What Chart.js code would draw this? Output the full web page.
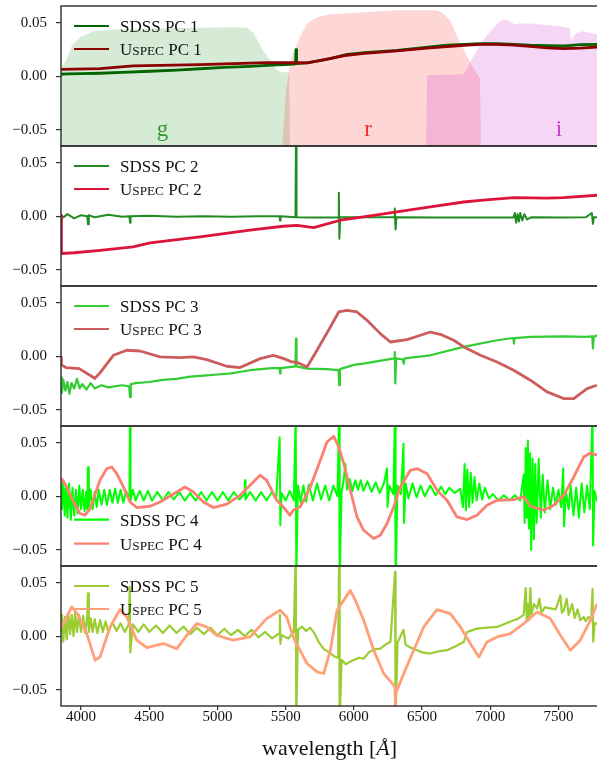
<!DOCTYPE html>
<html><head><meta charset="utf-8">
<script src="https://cdn.jsdelivr.net/npm/chart.js@4.4.0/dist/chart.umd.min.js"></script>
<style>
html,body{margin:0;padding:0;background:#fff;overflow:hidden;width:597px;height:769px}
#wrap{position:relative;width:600px;height:769px;background:#fff}
</style></head>
<body><div id="wrap"></div>
<script>
// ---------------- data ----------------
const xTickValues = [4000, 4500, 5000, 5500, 6000, 6500, 7000, 7500];
const yTickValues = [-0.05, 0, 0.05];
const legendLabels = [
  ['SDSS PC 1', 'Uspec PC 1'], ['SDSS PC 2', 'Uspec PC 2'], ['SDSS PC 3', 'Uspec PC 3'],
  ['SDSS PC 4', 'Uspec PC 4'], ['SDSS PC 5', 'Uspec PC 5']
];
const filterNames = ['g', 'r', 'i'];

// filter transmission curves (scaled into panel 1)
const gWave = [3853, 3890, 3934, 3993, 4088, 4264, 4630, 5114, 5217, 5261, 5334, 5386, 5437, 5481, 5525, 5529, 5532];
const gTrans = [0.0074, 0.0149, 0.029, 0.0363, 0.042, 0.0438, 0.0447, 0.0456, 0.0452, 0.041, 0.024, 0.0149, 0.0056, 0.0037, 0.0037, -0.03, -0.065];
const rWave = [5474, 5488, 5503, 5525, 5547, 5584, 5620, 5657, 5730, 5825, 6075, 6317, 6610, 6654, 6705, 6756, 6808, 6852, 6910, 6925, 6932];
const rTrans = [-0.065, -0.041, -0.013, 0.0056, 0.0196, 0.0307, 0.040, 0.0493, 0.055, 0.0577, 0.0596, 0.0615, 0.0615, 0.0587, 0.0521, 0.0372, 0.0242, 0.013, 0.0009, -0.0019, -0.065];
const iWave = [6529, 6537, 6808, 6852, 6910, 6969, 7028, 7072, 7101, 7138, 7174, 7218, 7292, 7512, 7585, 7588, 7592, 7629, 7673, 7790];
const iTrans = [-0.065, 0.001, 0.0019, 0.013, 0.026, 0.037, 0.0456, 0.0512, 0.053, 0.052, 0.0484, 0.0493, 0.0493, 0.0466, 0.0447, 0.035, 0.0335, 0.040, 0.042, 0.039];

// PC 1
const sdss1Wave = [3853, 3900, 4000, 4139, 4300, 4506, 4700, 4872, 5050, 5239, 5400, 5532, 5572, 5576, 5580, 5657, 5825, 5950, 6075, 6317, 6558, 6683, 6808, 6925, 7050, 7174, 7292, 7416, 7541, 7658, 7783];
const sdss1Flux = [0.0019, 0.0022, 0.0024, 0.0028, 0.0037, 0.0047, 0.0058, 0.0070, 0.0082, 0.0093, 0.0103, 0.0112, 0.0116, 0.0249, 0.0118, 0.0124, 0.0165, 0.0205, 0.0220, 0.0242, 0.0273, 0.0289, 0.0298, 0.0304, 0.0303, 0.0298, 0.0289, 0.0286, 0.0282, 0.0295, 0.0298];
const uspec1Wave = [3853, 4139, 4381, 4872, 5364, 5583, 5657, 5750, 5825, 5950, 6075, 6317, 6558, 6808, 6925, 7050, 7174, 7292, 7416, 7541, 7658, 7783];
const uspec1Flux = [0.0065, 0.0072, 0.0096, 0.0109, 0.0128, 0.0126, 0.0124, 0.0145, 0.0165, 0.0196, 0.0214, 0.0237, 0.0265, 0.0289, 0.0298, 0.0298, 0.0290, 0.0279, 0.0265, 0.0258, 0.0263, 0.0273];

// PC 2
const sdss2Wave = [3853, 3870, 3900, 3950, 4000, 4045, 4051, 4057, 4100, 4200,
  4300, 4355, 4359, 4363, 4500, 4700, 4900, 5100, 5300, 5455,
  5459, 5463, 5572, 5576, 5580, 5700, 5886, 5890, 5894, 5900,
  6000, 6296, 6300, 6306, 6312, 6600, 7000, 7170, 7180, 7190,
  7200, 7210, 7220, 7235, 7250, 7270, 7300, 7500, 7700, 7745,
  7753, 7760, 7783];
const sdss2Flux = [0.001, -0.001, 0.002, -0.002, 0.001, 0.000, -0.0075, 0.001, -0.001, 0.0015,
  -0.0005, 0.0, -0.006, 0.0, 0.0005, -0.0005, 0.0, -0.0005, 0.0, 0.0,
  -0.004, 0.0, -0.001, 0.08, -0.001, -0.0012, -0.001, 0.022, -0.021, -0.001,
  -0.001, -0.001, 0.0072, -0.0123, -0.001, -0.0012, -0.0012, -0.0012, 0.003, -0.006,
  0.002, -0.005, 0.003, -0.004, 0.002, -0.003, -0.001, -0.0012, -0.001, 0.003,
  -0.007, -0.001, -0.001];
const uspec2Wave = [3853, 3856, 3950, 4139, 4381, 4506, 4872, 5239, 5481, 5583, 5705, 5900, 6071, 6315, 6560, 6805, 6927, 7172, 7416, 7538, 7783];
const uspec2Flux = [0.0008, -0.0347, -0.0340, -0.0317, -0.0286, -0.0249, -0.0193, -0.0130, -0.0093, -0.0084, -0.0105, -0.0037, -0.0006, 0.0040, 0.0087, 0.0133, 0.0149, 0.0174, 0.0170, 0.0174, 0.0196];

// PC 3
const sdss3Wave = [3853, 3860, 3870, 3885, 3900, 3915, 3930, 3950, 3970, 3990,
  4010, 4040, 4070, 4100, 4150, 4200, 4300, 4353, 4359, 4365,
  4400, 4500, 4600, 4700, 4800, 4900, 5000, 5100, 5239, 5400,
  5455, 5459, 5463, 5572, 5576, 5580, 5657, 5800, 5888, 5892,
  5898, 6000, 6071, 6200, 6296, 6300, 6304, 6310, 6360, 6366,
  6372, 6560, 6805, 7050, 7170, 7174, 7178, 7295, 7538, 7700,
  7748, 7753, 7758, 7783];
const sdss3Flux = [-0.020, -0.034, -0.022, -0.032, -0.024, -0.035, -0.025, -0.030, -0.021, -0.030,
  -0.026, -0.031, -0.025, -0.030, -0.027, -0.029, -0.027, -0.028, -0.038, -0.026,
  -0.025, -0.024, -0.022, -0.021, -0.019, -0.018, -0.017, -0.016, -0.013, -0.011,
  -0.011, -0.016, -0.011, -0.0095, 0.0165, -0.0095, -0.0115, -0.012, -0.013, -0.027,
  -0.012, -0.008, -0.0068, -0.004, -0.002, 0.004, -0.0254, -0.002, -0.003, -0.007,
  -0.002, 0.0009, 0.0087, 0.0149, 0.017, 0.0118, 0.017, 0.018, 0.0186, 0.018,
  0.0185, 0.0072, 0.018, 0.0196];
const uspec3Wave = [3853, 3856, 3890, 3987, 4085, 4100, 4139, 4237, 4335, 4432,
  4579, 4726, 4823, 4921, 5068, 5166, 5313, 5410, 5486, 5540,
  5590, 5657, 5730, 5828, 5889, 5950, 6023, 6097, 6194, 6268,
  6390, 6488, 6561, 6634, 6733, 6806, 6928, 7050, 7172, 7294,
  7416, 7538, 7612, 7710, 7783];
const uspec3Flux = [-0.001, -0.008, -0.0105, -0.0115, -0.0193, -0.0207, -0.0155, 0.0009, 0.0056, 0.0049,
  -0.0006, -0.0012, -0.0006, -0.0031, -0.0093, -0.0105, -0.0022, 0.0009, -0.0022, -0.0050,
  -0.0060, -0.0100, 0.0056, 0.0273, 0.0413, 0.0428, 0.0413, 0.0335, 0.0211, 0.0133,
  0.0155, 0.0196, 0.0226, 0.0205, 0.0149, 0.0087, 0.0009, -0.0053, -0.0130, -0.0223,
  -0.0332, -0.0394, -0.0394, -0.0301, -0.0270];

// PC 4
const sdss4Wave = [3853, 3860, 3870, 3880, 3890, 3900, 3912, 3925, 3937, 3950,
  3962, 3975, 3987, 4000, 4012, 4025, 4037, 4045, 4051, 4057,
  4070, 4085, 4100, 4115, 4130, 4150, 4170, 4190, 4210, 4230,
  4250, 4270, 4290, 4310, 4330, 4355, 4359, 4363, 4380, 4400,
  4430, 4460, 4490, 4520, 4560, 4600, 4640, 4680, 4720, 4760,
  4800, 4840, 4880, 4920, 4960, 5000, 5040, 5080, 5120, 5160,
  5198, 5202, 5206, 5240, 5280, 5320, 5360, 5400, 5430, 5456,
  5461, 5470, 5500, 5530, 5560, 5574, 5578, 5590, 5610, 5630,
  5650, 5670, 5700, 5730, 5760, 5790, 5820, 5850, 5880, 5892,
  5896, 5910, 5925, 5938, 5950, 5970, 5990, 6010, 6030, 6050,
  6070, 6100, 6130, 6160, 6190, 6220, 6243, 6247, 6260, 6290,
  6302, 6306, 6320, 6345, 6364, 6368, 6380, 6400, 6430, 6460,
  6490, 6520, 6560, 6600, 6640, 6670, 6700, 6740, 6780, 6800,
  6812, 6822, 6832, 6845, 6857, 6870, 6885, 6900, 6920, 6940,
  6960, 6990, 7020, 7060, 7100, 7140, 7180, 7220, 7245, 7252,
  7260, 7268, 7276, 7284, 7292, 7300, 7310, 7320, 7330, 7340,
  7355, 7370, 7385, 7400, 7420, 7440, 7460, 7480, 7500, 7520,
  7535, 7541, 7555, 7575, 7590, 7610, 7630, 7650, 7670, 7690,
  7710, 7730, 7750, 7754, 7765, 7783];
const sdss4Flux = [0.012, -0.012, 0.014, -0.018, 0.010, -0.020, 0.012, -0.022, 0.008, -0.018,
  0.006, -0.016, 0.010, -0.012, 0.006, -0.014, 0.004, -0.012, 0.027, -0.010,
  0.006, -0.012, 0.004, -0.010, 0.006, -0.008, 0.006, -0.008, 0.006, -0.006,
  0.007, -0.006, 0.006, -0.006, 0.005, -0.003, 0.08, -0.004, 0.006, -0.004,
  0.005, -0.004, 0.005, -0.004, 0.004, -0.004, 0.004, -0.003, 0.004, -0.004,
  0.003, -0.004, 0.004, -0.004, 0.004, -0.004, 0.004, -0.004, 0.004, -0.003,
  0.002, 0.015, -0.003, 0.004, -0.004, 0.004, -0.004, 0.004, -0.003, 0.055,
  -0.027, 0.003, -0.004, 0.005, -0.004, 0.08, -0.08, 0.010, -0.006, 0.010,
  -0.005, 0.011, -0.004, 0.012, -0.003, 0.010, -0.004, 0.010, 0.000, 0.08,
  -0.08, 0.004, 0.015, 0.030, 0.006, 0.016, 0.005, 0.015, 0.006, 0.015,
  0.005, 0.014, 0.004, 0.013, 0.003, 0.012, 0.026, -0.010, 0.010, 0.002,
  0.08, -0.08, 0.010, 0.002, 0.049, -0.025, 0.012, -0.002, 0.012, -0.001,
  0.010, 0.000, 0.010, 0.001, 0.009, 0.002, 0.008, 0.003, 0.007, -0.010,
  0.030, -0.013, 0.025, -0.010, 0.022, -0.006, 0.018, -0.004, 0.012, -0.003,
  0.008, -0.002, 0.002, -0.004, 0.001, -0.004, 0.001, -0.004, 0.020, -0.025,
  0.045, -0.020, 0.052, -0.030, 0.040, -0.050, 0.035, -0.040, 0.030, -0.025,
  0.035, -0.020, 0.020, -0.015, 0.015, -0.012, 0.008, -0.008, 0.006, -0.010,
  0.026, -0.028, 0.004, -0.012, 0.010, -0.018, 0.008, -0.020, 0.012, -0.015,
  0.010, -0.012, 0.08, -0.046, 0.005, -0.005];
const uspec4Wave = [3858, 3895, 3944, 3993, 4029, 4066, 4139, 4188, 4225, 4262,
  4310, 4359, 4408, 4506, 4579, 4702, 4762, 4823, 4897, 4970,
  5068, 5166, 5239, 5312, 5361, 5435, 5483, 5532, 5556, 5605,
  5633, 5681, 5754, 5803, 5853, 5889, 5926, 5974, 6023, 6072,
  6146, 6194, 6243, 6292, 6341, 6414, 6463, 6537, 6610, 6683,
  6756, 6830, 6903, 6976, 7050, 7172, 7245, 7294, 7392, 7465,
  7539, 7612, 7685, 7734, 7783];
const uspec4Flux = [0.0165, 0.0087, -0.0053, -0.0161, -0.0177, -0.0115, 0.0149, 0.0258, 0.0273, 0.0211,
  0.0087, -0.0053, -0.0105, -0.0093, -0.0053, 0.0040, 0.0087, 0.0040, -0.0053, -0.0105,
  -0.0074, 0.0009, 0.0102, 0.0196, 0.0149, -0.0037, -0.0100, -0.0177, -0.0130, -0.0100,
  -0.0037, 0.0087, 0.0335, 0.0506, 0.0559, 0.0459, 0.0304, 0.0056, -0.0193, -0.0317,
  -0.0394, -0.0363, -0.0254, -0.0100, 0.0087, 0.0242, 0.0258, 0.0211, 0.0056, -0.0037,
  -0.0193, -0.0217, -0.0177, -0.0084, -0.0037, -0.0031, -0.0006, -0.0093, -0.0130, -0.0084,
  0.0009, 0.0180, 0.0366, 0.0403, 0.0382];

// PC 5
const sdss5Wave = [3853, 3860, 3870, 3882, 3895, 3907, 3920, 3932, 3945, 3957,
  3970, 3985, 4000, 4015, 4030, 4045, 4051, 4057, 4070, 4085,
  4100, 4120, 4140, 4160, 4180, 4200, 4230, 4260, 4290, 4320,
  4350, 4357, 4361, 4380, 4420, 4460, 4500, 4550, 4600, 4650,
  4700, 4750, 4800, 4850, 4900, 4950, 5000, 5050, 5100, 5150,
  5200, 5250, 5300, 5350, 5400, 5455, 5458, 5461, 5470, 5520,
  5560, 5574, 5578, 5590, 5620, 5650, 5680, 5710, 5740, 5780,
  5820, 5860, 5885, 5892, 5896, 5910, 5940, 5970, 6000, 6040,
  6072, 6110, 6150, 6194, 6240, 6268, 6302, 6306, 6320, 6364,
  6380, 6414, 6500, 6560, 6620, 6683, 6750, 6806, 6830, 6900,
  6976, 7050, 7172, 7200, 7245, 7260, 7268, 7276, 7284, 7294,
  7302, 7320, 7343, 7360, 7375, 7400, 7440, 7480, 7514, 7525,
  7539, 7560, 7575, 7600, 7620, 7640, 7660, 7685, 7700, 7720,
  7740, 7750, 7755, 7765, 7783];
const sdss5Flux = [0.005, 0.020, -0.005, 0.018, -0.003, 0.022, 0.002, 0.020, 0.000, 0.022,
  0.004, 0.020, 0.004, 0.019, 0.003, 0.018, 0.040, 0.004, 0.017, 0.004,
  0.016, 0.003, 0.015, 0.004, 0.014, 0.004, 0.013, 0.005, 0.012, 0.004,
  0.011, 0.046, -0.015, 0.011, 0.004, 0.011, 0.004, 0.010, 0.003, 0.010,
  0.003, 0.009, 0.002, 0.008, 0.002, 0.008, 0.001, 0.007, 0.001, 0.006,
  0.000, 0.006, -0.001, 0.004, -0.002, 0.003, 0.020, -0.007, 0.001, -0.002,
  0.004, 0.08, -0.08, 0.006, 0.009, 0.005, 0.008, 0.003, -0.005, -0.012,
  -0.015, -0.019, -0.020, 0.08, -0.08, -0.022, -0.026, -0.024, -0.022, -0.020,
  -0.021, -0.015, -0.012, -0.0115, -0.007, -0.0053, 0.060, -0.08, -0.006, 0.006,
  -0.008, -0.0105, -0.015, -0.0161, -0.014, -0.013, -0.009, -0.0053, 0.004, 0.0071,
  0.008, 0.0087, 0.0149, 0.016, 0.020, 0.045, 0.014, 0.030, 0.015, 0.045,
  0.020, 0.030, 0.026, 0.035, 0.022, 0.027, 0.026, 0.025, 0.038, 0.022,
  0.024, 0.035, 0.020, 0.030, 0.017, 0.025, 0.015, 0.018, 0.014, 0.018,
  0.015, 0.044, -0.005, 0.012, 0.0118];
const uspec5Wave = [3858, 3932, 3980, 4042, 4103, 4139, 4213, 4286, 4335, 4408,
  4482, 4603, 4702, 4775, 4848, 4921, 4995, 5117, 5239, 5361,
  5459, 5508, 5556, 5584, 5605, 5657, 5730, 5779, 5828, 5877,
  5974, 6011, 6072, 6146, 6219, 6292, 6302, 6304, 6306, 6317,
  6366, 6439, 6512, 6610, 6707, 6781, 6854, 6916, 6976, 7050,
  7147, 7245, 7343, 7440, 7514, 7587, 7660, 7734, 7783];
const uspec5Flux = [0.0087, 0.0273, 0.0196, 0.0025, -0.0223, -0.0193, 0.0087, 0.0249, 0.0180, -0.0037,
  -0.0105, -0.0068, -0.0115, 0.0009, 0.0118, 0.0087, 0.0009, -0.0037, -0.0006, 0.0165,
  0.0242, 0.0180, -0.0006, -0.0084, -0.0130, -0.0254, -0.0332, -0.0347, -0.0130, 0.0242,
  0.0428, 0.0335, 0.0149, -0.0130, -0.0347, -0.0456, -0.0480, -0.0700, -0.0490, -0.0503,
  -0.0347, -0.0130, 0.0087, 0.0249, 0.0211, 0.0087, -0.0068, -0.0193, -0.0053, -0.0006,
  0.0025, 0.0118, 0.0226, 0.0165, 0.0009, -0.0130, -0.0037, 0.0149, 0.0304];

// ---------------- styling / layout ----------------
const FONT = "'Liberation Serif', 'Times New Roman', serif";
const XMIN = 3853, XMAX = 7790, YMIN = -0.065, YMAX = 0.0655;
const PANEL_TOP = [6, 146, 286, 426, 566];
const PANEL_H = 140, PAD = 10;
const sdssColors = ['#006400', '#228b22', '#32cd32', '#00ff00', '#9acd32'];
const uspecColors = ['#8b0000', '#dc143c', '#cd5c5c', '#fa8072', '#ffa07a'];
const sdssWidths = [2.8, 2.0, 2.2, 2.0, 2.2];
const uspecWidths = [2.8, 2.8, 2.8, 2.8, 2.8];
const filterFills = ['rgba(0,128,0,0.16)', 'rgba(255,0,0,0.16)', 'rgba(191,0,191,0.16)'];
const filterTextColors = ['#2f9a2f', '#f02a2a', '#c93ac9'];
const filterLabelWave = [4597, 6104, 7504];
const legendRows = [[20, 43], [20, 43], [20, 43], [93.6, 117.6], [20, 43]];

const seriesWave = [[sdss1Wave, uspec1Wave], [sdss2Wave, uspec2Wave], [sdss3Wave, uspec3Wave], [sdss4Wave, uspec4Wave], [sdss5Wave, uspec5Wave]];
const seriesFlux = [[sdss1Flux, uspec1Flux], [sdss2Flux, uspec2Flux], [sdss3Flux, uspec3Flux], [sdss4Flux, uspec4Flux], [sdss5Flux, uspec5Flux]];

function pts(w, f) { return w.map((x, i) => ({ x: x, y: f[i] })); }
function lineDS(w, f, color, width, order) {
  return { data: pts(w, f), borderColor: color, borderWidth: width, pointRadius: 0, fill: false, order: order, tension: 0, borderJoinStyle: 'round' };
}
function fillDS(w, f, color, order) {
  return { data: pts(w, f), borderColor: 'rgba(0,0,0,0)', borderWidth: 1, backgroundColor: color, fill: 'start', pointRadius: 0, order: order, tension: 0 };
}
function fmtY(v) {
  if (Math.abs(v) < 1e-9) return '0.00';
  return (v < 0 ? '\u2212' : '') + Math.abs(v).toFixed(2);
}
function legendParts(label) {
  const m = label.match(/^Uspec(.*)$/);
  if (m) return [['U', 1], ['SPEC', 0.78], [m[1], 1]];
  return [[label, 1]];
}
function drawLegend(ctx, area, labels, colors, rows) {
  ctx.save();
  labels.forEach((lab, i) => {
    const y = area.top + rows[i];
    ctx.beginPath();
    ctx.strokeStyle = colors[i];
    ctx.lineWidth = 2.2;
    ctx.moveTo(74, y); ctx.lineTo(109, y); ctx.stroke();
    let x = 120;
    ctx.fillStyle = '#111';
    ctx.textBaseline = 'alphabetic';
    ctx.textAlign = 'left';
    legendParts(lab).forEach(([t, s]) => {
      ctx.font = (17 * s).toFixed(2) + 'px ' + FONT;
      ctx.fillText(t, x, y + 6);
      x += ctx.measureText(t).width;
    });
  });
  ctx.restore();
}

const wrap = document.getElementById('wrap');

for (let k = 0; k < 5; k++) {
  const isBottom = (k === 4);
  const cTop = PANEL_TOP[k] - PAD;
  const cH = isBottom ? 769 - cTop : PANEL_H + 2 * PAD;
  const cv = document.createElement('canvas');
  cv.width = 600; cv.height = cH;
  cv.style.cssText = 'position:absolute;left:0;top:' + cTop + 'px;width:600px;height:' + cH + 'px';
  wrap.appendChild(cv);

  const datasets = [
    lineDS(seriesWave[k][1], seriesFlux[k][1], uspecColors[k], uspecWidths[k], 0),
    lineDS(seriesWave[k][0], seriesFlux[k][0], sdssColors[k], sdssWidths[k], 1)
  ];
  if (k === 0) {
    datasets.push(fillDS(gWave, gTrans, filterFills[0], 4));
    datasets.push(fillDS(rWave, rTrans, filterFills[1], 3));
    datasets.push(fillDS(iWave, iTrans, filterFills[2], 2));
  }

  const panelPlugin = {
    id: 'panelDeco' + k,
    afterDatasetsDraw(chart) {
      const ctx = chart.ctx, a = chart.chartArea;
      ctx.save();
      if (k === 0) {
        ctx.font = '23px ' + FONT;
        ctx.textAlign = 'center';
        ctx.textBaseline = 'alphabetic';
        filterNames.forEach((n, i) => {
          ctx.fillStyle = filterTextColors[i];
          ctx.fillText(n, chart.scales.x.getPixelForValue(filterLabelWave[i]), a.top + 130);
        });
      }
      ctx.strokeStyle = '#2b2b2b';
      ctx.lineWidth = 1.4;
      ctx.strokeRect(a.left, a.top, a.right - a.left, a.bottom - a.top);
      ctx.restore();
      drawLegend(ctx, a, legendLabels[k], [sdssColors[k], uspecColors[k]], legendRows[k]);
      if (isBottom) {
        ctx.save();
        ctx.fillStyle = '#111';
        ctx.textBaseline = 'alphabetic';
        ctx.textAlign = 'left';
        const parts = [['wavelength [', 'normal'], ['\u00C5', 'italic'], [']', 'normal']];
        let total = 0;
        parts.forEach(p => { ctx.font = p[1] + ' 22px ' + FONT; total += ctx.measureText(p[0]).width; });
        let x = 329.5 - total / 2;
        const yb = 755 - cTop;
        parts.forEach(p => { ctx.font = p[1] + ' 22px ' + FONT; ctx.fillText(p[0], x, yb); x += ctx.measureText(p[0]).width; });
        ctx.restore();
      }
    }
  };

  new Chart(cv.getContext('2d'), {
    type: 'line',
    data: { datasets: datasets },
    plugins: [panelPlugin],
    options: {
      responsive: false,
      animation: false,
      devicePixelRatio: 1,
      events: [],
      layout: { padding: { top: PAD, bottom: isBottom ? 0 : PAD, left: 0, right: 2 } },
      plugins: { legend: { display: false }, tooltip: { enabled: false }, title: { display: false } },
      scales: {
        x: {
          type: 'linear', min: XMIN, max: XMAX, display: isBottom,
          afterBuildTicks: s => { s.ticks = xTickValues.map(v => ({ value: v })); },
          afterFit: s => {
            if (isBottom) s.height = 769 - 706;
            s.paddingLeft = 0; s.paddingRight = 0; s.paddingTop = 0; s.paddingBottom = 0;
          },
          ticks: { font: { family: FONT, size: 15, lineHeight: 1 }, color: '#111', padding: -0.5, maxRotation: 0, autoSkip: false, callback: v => String(v) },
          grid: { drawOnChartArea: false, drawTicks: true, tickLength: 4, color: '#333', lineWidth: 1.2 },
          border: { display: false }
        },
        y: {
          min: YMIN, max: YMAX,
          afterBuildTicks: s => { s.ticks = yTickValues.map(v => ({ value: v })); },
          afterFit: s => {
            s.width = 61;
            s.paddingTop = 0; s.paddingBottom = 0; s.paddingLeft = 0; s.paddingRight = 0;
          },
          ticks: { font: { family: FONT, size: 15 }, color: '#111', padding: 9, autoSkip: false, callback: v => fmtY(v) },
          grid: { drawOnChartArea: false, drawTicks: true, tickLength: 5, color: '#333', lineWidth: 1.2 },
          border: { display: false }
        }
      }
    }
  });
}
</script>
</body></html>
